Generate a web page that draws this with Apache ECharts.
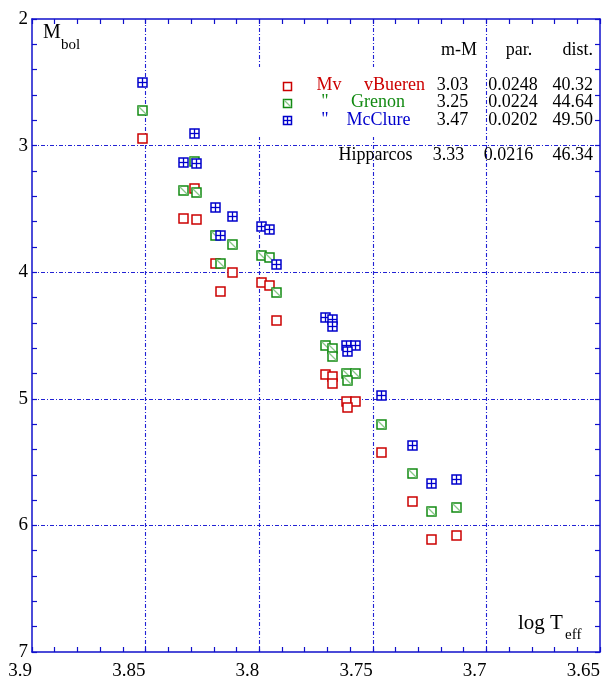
<!DOCTYPE html>
<html>
<head>
<meta charset="utf-8">
<script src="https://cdn.jsdelivr.net/npm/echarts@6/dist/echarts.min.js"></script>
<style>html,body{margin:0;padding:0;background:#fff}#c{width:603px;height:684px}</style>
</head>
<body>
<div id="c"></div>
<script>
// log Teff of each star
const logTeff = [3.8517, 3.8286, 3.8335, 3.8277, 3.8193, 3.8118, 3.8171, 3.7993, 3.7956, 3.7925,
                 3.7710, 3.7681, 3.7678, 3.7619, 3.7578, 3.7615, 3.7463, 3.7329, 3.7244, 3.7134];
// Mbol with McClure distance modulus (blue)
const mbolMcClure = [2.499, 2.897, 3.128, 3.136, 3.485, 3.556, 3.706, 3.635, 3.656, 3.935,
                     4.352, 4.368, 4.427, 4.573, 4.573, 4.624, 4.971, 5.362, 5.662, 5.633];
// Mbol with Grenon distance modulus (green)
const mbolGrenon = [2.720, 3.118, 3.351, 3.364, 3.709, 3.780, 3.930, 3.861, 3.879, 4.159,
                    4.577, 4.597, 4.658, 4.797, 4.797, 4.849, 5.196, 5.586, 5.886, 5.854];
// Mbol with vBueren distance modulus (red)
const mbolVBueren = [2.941, 3.335, 3.572, 3.580, 3.930, 3.998, 4.151, 4.080, 4.100, 4.379,
                     4.802, 4.818, 4.876, 5.018, 5.018, 5.068, 5.417, 5.807, 6.106, 6.075];
const xTicks = ['3.9', '3.85', '3.8', '3.75', '3.7', '3.65'];
const yTicks = ['2', '3', '4', '5', '6', '7'];
// legend table
const tableHeader = ['m-M', 'par.', 'dist.'];
const tableRows = [
  {label: 'Mv', name: 'vBueren', mM: '3.03', par: '0.0248', dist: '40.32'},
  {label: '"', name: 'Grenon', mM: '3.25', par: '0.0224', dist: '44.64'},
  {label: '"', name: 'McClure', mM: '3.47', par: '0.0202', dist: '49.50'}
];
const hipparcos = {name: 'Hipparcos', mM: '3.33', par: '0.0216', dist: '46.34'};

const RED = '#cc0000', GREEN = '#128a12', BLUE = '#0000cc', LGREEN = '#86c886';
const SERIF = '"Liberation Serif", "DejaVu Serif", serif';

function markerChildren(kind, x, y, color, S) {
  const h = S / 2;
  const ch = [{type: 'rect', shape: {x: x - h, y: y - h, width: S, height: S},
               style: {fill: '#fff', stroke: color, lineWidth: 1.5}}];
  if (kind === 'diag') {
    ch.push({type: 'line', shape: {x1: x - h + 0.5, y1: y - h + 0.5, x2: x + h - 0.5, y2: y + h - 0.5},
             style: {stroke: LGREEN, lineWidth: 1.3}});
  } else if (kind === 'cross') {
    ch.push({type: 'line', shape: {x1: x, y1: y - h, x2: x, y2: y + h}, style: {stroke: color, lineWidth: 1.3}});
    ch.push({type: 'line', shape: {x1: x - h, y1: y, x2: x + h, y2: y}, style: {stroke: color, lineWidth: 1.3}});
  }
  return ch;
}
function makeSeries(name, ys, kind, color, z) {
  return {
    type: 'custom', name: name, z: z,
    data: logTeff.map((t, i) => [t, ys[i]]),
    encode: {x: 0, y: 1},
    renderItem: function (params, api) {
      const p = api.coord([api.value(0), api.value(1)]);
      return {type: 'group', children: markerChildren(kind, Math.round(p[0]) + 0.5, Math.round(p[1]) + 0.5, color, 9)};
    }
  };
}

const gridLine = {show: true, showMinLine: false, showMaxLine: false,
  lineStyle: {color: '#2222d4', width: 1.1, type: [4, 2, 1, 2]}};
const axisLineStyle = {show: true, lineStyle: {color: '#1010cc', width: 1.5}};
const tickStyle = {show: true, inside: true, length: 5, lineStyle: {color: '#1010cc', width: 1.2}};
const minorStyle = {show: true, splitNumber: 5, length: 5, lineStyle: {color: '#1010cc', width: 1.2}};

const chart = echarts.init(document.getElementById('c'), null, {renderer: 'canvas'});

const graphics = [];
// white box behind legend
graphics.push({type: 'rect', z: 50, shape: {x: 252, y: 67, width: 184, height: 70}, style: {fill: '#fff'}});
function txt(str, x, y, color, size, align) {
  graphics.push({type: 'text', z: 60, x: x, y: y,
    style: {text: str, fill: color, font: size + 'px ' + SERIF, textAlign: align || 'center', textVerticalAlign: 'middle'}});
}
// axis names
txt('M', 43, 33, '#000', 20, 'left');
txt('bol', 61, 45, '#000', 15, 'left');
txt('log T', 518, 623, '#000', 21, 'left');
txt('eff', 565, 635, '#000', 15, 'left');
// header
txt(tableHeader[0], 459, 50, '#000', 18);
txt(tableHeader[1], 519, 50, '#000', 18);
txt(tableHeader[2], 593, 50, '#000', 18, 'right');
const rowY = [85.5, 102.5, 120];
const rowColors = [RED, GREEN, BLUE];
const rowKinds = ['plain', 'diag', 'cross'];
const labelX = [329, 325, 325];
const nameX = [394.5, 378, 378.5];
tableRows.forEach((r, i) => {
  graphics.push({type: 'group', z: 60, children: markerChildren(rowKinds[i], 287.5, Math.round(rowY[i]) + 0.5, rowColors[i], 8).map(c => Object.assign(c, {z: 60}))});
  txt(r.label, labelX[i], rowY[i], rowColors[i], 18);
  txt(r.name, nameX[i], rowY[i], rowColors[i], 18);
  txt(r.mM, 452.5, rowY[i], '#000', 18);
  txt(r.par, 513, rowY[i], '#000', 18);
  txt(r.dist, 593, rowY[i], '#000', 18, 'right');
});
txt(hipparcos.name, 375.5, 155, '#000', 18);
txt(hipparcos.mM, 448.5, 155, '#000', 18);
txt(hipparcos.par, 508.5, 155, '#000', 18);
txt(hipparcos.dist, 593, 155, '#000', 18, 'right');

chart.setOption({
  animation: false,
  backgroundColor: '#fff',
  grid: {left: 32, right: 3, top: 19, bottom: 32, containLabel: false},
  xAxis: [
    {type: 'value', position: 'bottom', min: 3.65, max: 3.9, interval: 0.05, inverse: true,
     axisLine: axisLineStyle, axisTick: tickStyle, minorTick: minorStyle, splitLine: gridLine,
     axisLabel: {show: true, align: 'right', margin: 10, color: '#000', fontSize: 19, fontFamily: SERIF,
       showMinLabel: true, showMaxLabel: true,
       formatter: v => xTicks[Math.round((3.9 - v) / 0.05)]}},
    {type: 'value', position: 'top', min: 3.65, max: 3.9, interval: 0.05, inverse: true,
     axisLine: axisLineStyle, axisTick: tickStyle, minorTick: minorStyle, splitLine: {show: false},
     axisLabel: {show: false}}
  ],
  yAxis: [
    {type: 'value', position: 'left', min: 2, max: 7, interval: 1, inverse: true,
     axisLine: axisLineStyle, axisTick: tickStyle, minorTick: minorStyle, splitLine: gridLine,
     axisLabel: {show: true, margin: 4, color: '#000', fontSize: 19, fontFamily: SERIF,
       showMinLabel: true, showMaxLabel: true,
       formatter: v => yTicks[Math.round(v - 2)]}},
    {type: 'value', position: 'right', min: 2, max: 7, interval: 1, inverse: true,
     axisLine: axisLineStyle, axisTick: tickStyle, minorTick: minorStyle, splitLine: {show: false},
     axisLabel: {show: false}}
  ],
  series: [
    makeSeries('vBueren', mbolVBueren, 'plain', RED, 3),
    makeSeries('Grenon', mbolGrenon, 'diag', GREEN, 4),
    makeSeries('McClure', mbolMcClure, 'cross', BLUE, 5)
  ],
  graphic: graphics
});
</script>
</body>
</html>
